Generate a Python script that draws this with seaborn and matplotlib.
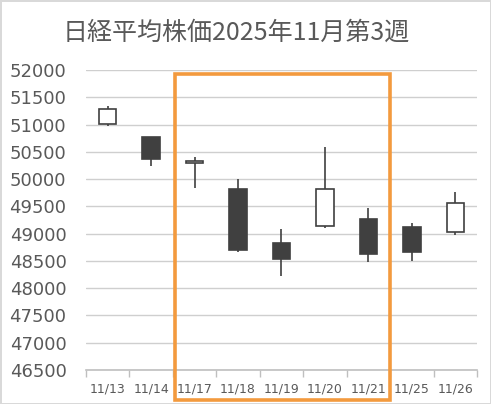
import matplotlib
matplotlib.use("Agg")
import pandas as pd
import matplotlib.pyplot as plt
import matplotlib.patches as mpatches
import matplotlib.transforms as mtransforms
import seaborn as sns

dates = ["11/13", "11/14", "11/17", "11/18", "11/19", "11/20", "11/21", "11/25", "11/26"]
opens = [51016, 50766, 50290, 49813, 48823, 49135, 49263, 49117, 49025]
highs = [51346, 50766, 50411, 49996, 49086, 50594, 49465, 49190, 49764]
lows = [50973, 50246, 49843, 48670, 48230, 49109, 48486, 48504, 48976]
closes = [51281, 50376, 50332, 48703, 48538, 49824, 48626, 48660, 49559]

y_ticks = list(range(46500, 52001, 500))

highlight_first = "11/17"
highlight_last = "11/21"

title = "日経平均株価2025年11月第3週"

df = pd.DataFrame({"date": dates, "open": opens, "high": highs,
                   "low": lows, "close": closes})
df["body_low"] = df[["open", "close"]].min(axis=1)
df["body_h"] = (df["open"] - df["close"]).abs()
df["up"] = df["close"] >= df["open"]

sns.set_theme(style="white")
plt.rcParams["font.family"] = ["DejaVu Sans", "Noto Sans CJK JP"]

text_col = "#595959"
dark = "#404040"

# figure edge gives the thin grey frame
fig = plt.figure(figsize=(4.91, 4.04), dpi=100, edgecolor="#D9D9D9",
                 linewidth=2.0)
ax = fig.add_axes([0.175, 0.0842, 0.7965, 0.7425])

# candle bodies
sns.barplot(data=df, x="date", y="body_h", bottom=df["body_low"].values,
            width=0.4, color="white", edgecolor=dark, linewidth=1.2,
            saturation=1, ax=ax, zorder=4)
for p, up in zip(ax.patches, df["up"]):
    p.set_facecolor("white" if up else dark)

# wicks
xs = range(len(df))
ax.vlines(xs, df["low"], df["high"], color=dark, linewidth=1.2, zorder=3)

# horizontal grid lines
for t in y_ticks:
    ax.axhline(t, color="#CFCFCF", linewidth=1.0, zorder=2.5)

ax.set_ylim(y_ticks[0], y_ticks[-1])
ax.set_yticks(y_ticks)
ax.set_xlim(-0.5, len(df) - 0.5)
ax.set_xlabel("")
ax.set_ylabel("")

for s in ["top", "right", "left"]:
    ax.spines[s].set_visible(False)
ax.spines["bottom"].set_color("#BFBFBF")
ax.spines["bottom"].set_linewidth(1.2)

ax.set_xticks([i + 0.5 for i in range(-1, len(df))], minor=True)
ax.tick_params(axis="x", which="minor", length=5, color="#BFBFBF",
               width=1.0, bottom=True)
ax.tick_params(axis="x", which="major", length=0, labelsize=9,
               labelcolor=text_col, pad=9)
ax.tick_params(axis="y", length=0, labelsize=13, labelcolor=text_col, pad=14)

fig.text(0.481, 0.918, title, ha="center", va="center", fontsize=18,
         color=text_col, family=["Noto Sans CJK JP", "DejaVu Sans"])

# highlight box around the week
i0 = dates.index(highlight_first) - 0.45
i1 = dates.index(highlight_last) + 0.5
trans = mtransforms.blended_transform_factory(ax.transData, ax.transAxes)
box = mpatches.Rectangle((i0, -0.1), i1 - i0, 1.087, transform=trans,
                         fill=False, edgecolor="#F39A3E", linewidth=2.6,
                         clip_on=False, zorder=5)
ax.add_patch(box)

fig.savefig("out.png", dpi=100)
